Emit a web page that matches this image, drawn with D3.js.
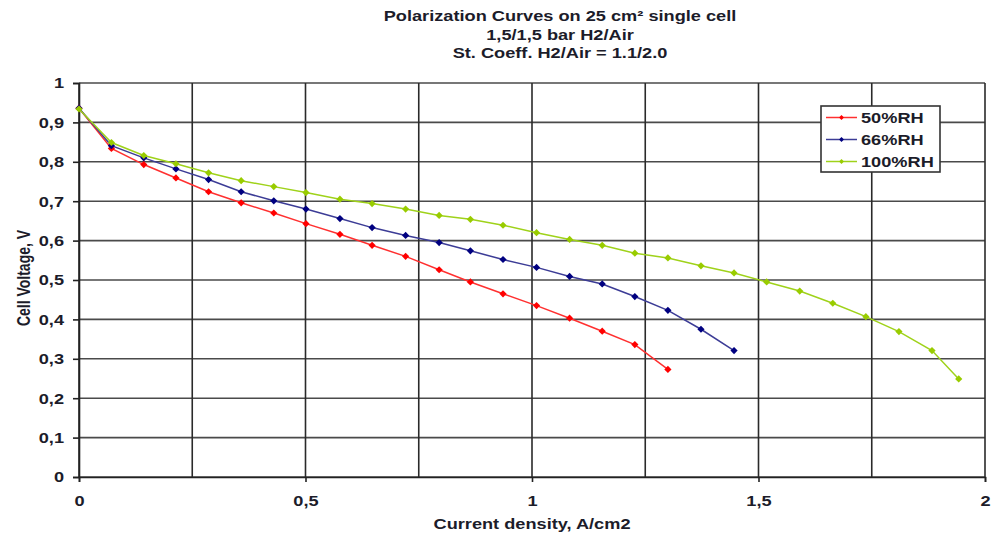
<!DOCTYPE html>
<html>
<head>
<meta charset="utf-8">
<script src="https://cdn.jsdelivr.net/npm/d3@7"></script>
<style>
  html, body { margin: 0; padding: 0; background: #ffffff; }
  svg { display: block; }
  text { font-family: "Liberation Sans", Arial, Helvetica, sans-serif; font-weight: bold; fill: #1c1c2a; }
</style>
</head>
<body>
<svg id="chart" width="991" height="535"></svg>
<script>
// Current density (A/cm2) at each measured point, shared by all runs
const currentDensity = [0, 0.0715, 0.143, 0.214, 0.286, 0.358, 0.430, 0.501, 0.576, 0.647,
  0.721, 0.795, 0.864, 0.936, 1.010, 1.083, 1.155, 1.227, 1.300, 1.373,
  1.446, 1.518, 1.591, 1.664, 1.737, 1.810, 1.883, 1.942];

// Cell voltage (V) for each relative humidity
const voltage50 = [0.936, 0.834, 0.793, 0.759, 0.724, 0.696, 0.670, 0.643, 0.616, 0.588,
  0.560, 0.526, 0.495, 0.465, 0.435, 0.403, 0.370, 0.336, 0.273];
const voltage66 = [0.936, 0.841, 0.810, 0.782, 0.755, 0.724, 0.701, 0.680, 0.656, 0.633,
  0.613, 0.595, 0.574, 0.552, 0.532, 0.509, 0.490, 0.458, 0.423, 0.375, 0.321];
const voltage100 = [0.934, 0.849, 0.816, 0.795, 0.772, 0.752, 0.737, 0.722, 0.705, 0.694,
  0.680, 0.664, 0.654, 0.639, 0.620, 0.603, 0.588, 0.568, 0.556, 0.536,
  0.518, 0.495, 0.472, 0.441, 0.407, 0.369, 0.321, 0.249];

const seriesNames = ["50%RH", "66%RH", "100%RH"];
const seriesColors = ["#ff0000", "#000080", "#99cc00"];
const lineColors = ["#ff3030", "#3c3c96", "#9fd21a"];

const titleLines = ["Polarization Curves on 25 cm\u00b2 single cell", "1,5/1,5 bar H2/Air", "St. Coeff. H2/Air = 1.1/2.0"];
const xTicks = [0, 0.5, 1, 1.5, 2];
const xGrid = [0, 0.25, 0.5, 0.75, 1, 1.25, 1.5, 1.75, 2];
const yTicks = [0, 0.1, 0.2, 0.3, 0.4, 0.5, 0.6, 0.7, 0.8, 0.9, 1];

const allSeries = [voltage50, voltage66, voltage100].map((vals, i) => ({
  name: seriesNames[i],
  color: seriesColors[i],
  line: lineColors[i],
  points: vals.map((v, j) => ({ x: currentDensity[j], y: v }))
}));

const SX = 1.3; // horizontal stretch of the lettering
const fmt = d => String(d).replace(".", ",");

const svg = d3.select("#chart");
const plot = { left: 79, right: 985, top: 83, bottom: 477 };

const x = d3.scaleLinear().domain([0, 2]).range([plot.left, plot.right]);
const y = d3.scaleLinear().domain([0, 1]).range([plot.bottom, plot.top]);

// Title
titleLines.forEach((t, i) => {
  svg.append("g")
    .attr("transform", `translate(560, ${21 + i * 18.5}) scale(${SX},1)`)
    .append("text")
    .attr("text-anchor", "middle")
    .style("font-size", "14px")
    .text(t);
});

// Grid
const grid = svg.append("g");
grid.selectAll("line.h").data(yTicks).join("line")
  .attr("x1", plot.left).attr("x2", plot.right)
  .attr("y1", d => y(d)).attr("y2", d => y(d))
  .attr("stroke", "#4a4a4a").attr("stroke-width", 1.6);
grid.selectAll("line.v").data(xGrid).join("line")
  .attr("x1", d => x(d)).attr("x2", d => x(d))
  .attr("y1", plot.top).attr("y2", plot.bottom)
  .attr("stroke", "#2a2a2a").attr("stroke-width", 1.6);

// Axes
const yAxis = svg.append("g")
  .attr("transform", `translate(${plot.left},0)`)
  .call(d3.axisLeft(y).tickValues(yTicks).tickFormat(fmt).tickSize(6).tickPadding(0));
const xAxis = svg.append("g")
  .attr("transform", `translate(0,${plot.bottom})`)
  .call(d3.axisBottom(x).tickValues(xTicks).tickFormat(fmt).tickSize(5).tickPadding(0));

[yAxis, xAxis].forEach(a => {
  a.attr("font-family", null).attr("font-size", null);
  a.select(".domain").attr("stroke", "#222").attr("stroke-width", 1.6);
  a.selectAll(".tick line").attr("stroke", "#222").attr("stroke-width", 1.6);
  a.selectAll(".tick text").style("font-size", "14px").attr("fill", "#1c1c2a");
});
yAxis.selectAll(".tick text")
  .attr("x", -15 / SX).attr("dy", "0.35em")
  .attr("transform", `scale(${SX},1)`);
xAxis.selectAll(".tick text")
  .attr("y", 29).attr("dy", 0)
  .attr("transform", `scale(${SX},1)`);

// Axis titles
svg.append("g")
  .attr("transform", `translate(532,529) scale(${SX},1)`)
  .append("text").attr("text-anchor", "middle").style("font-size", "14px")
  .text("Current density, A/cm2");
svg.append("g")
  .attr("transform", `translate(30,278) scale(${SX},1) rotate(-90)`)
  .append("text").attr("text-anchor", "middle").style("font-size", "14px")
  .text("Cell Voltage, V");

// Curves
const lineGen = d3.line().x(d => x(d.x)).y(d => y(d.y));
const marker = d3.symbol(d3.symbolSquare, 26);

const curves = svg.append("g");
allSeries.forEach(s => {
  const g = curves.append("g");
  g.append("path")
    .attr("d", lineGen(s.points))
    .attr("fill", "none")
    .attr("stroke", s.line)
    .attr("stroke-width", 1.5);
  g.selectAll("path.m").data(s.points).join("path")
    .attr("class", "m")
    .attr("d", marker)
    .attr("transform", d => `translate(${x(d.x)},${y(d.y)}) rotate(45)`)
    .attr("fill", s.color);
});

// Legend
const legend = svg.append("g").attr("transform", "translate(821,106)");
legend.append("rect")
  .attr("width", 119).attr("height", 66)
  .attr("fill", "#fff").attr("stroke", "#333").attr("stroke-width", 1.6);
const rows = legend.selectAll("g.row").data(allSeries).join("g")
  .attr("transform", (d, i) => `translate(0,${11.5 + i * 22})`);
rows.append("line")
  .attr("x1", 5).attr("x2", 36).attr("y1", 0).attr("y2", 0)
  .attr("stroke", d => d.line).attr("stroke-width", 1.5);
rows.append("path")
  .attr("d", d3.symbol(d3.symbolSquare, 12))
  .attr("transform", "translate(20.5,0) rotate(45)")
  .attr("fill", d => d.color);
rows.append("g")
  .attr("transform", `translate(40,5) scale(${SX},1)`)
  .append("text").style("font-size", "14px")
  .text(d => d.name);
</script>
</body>
</html>
